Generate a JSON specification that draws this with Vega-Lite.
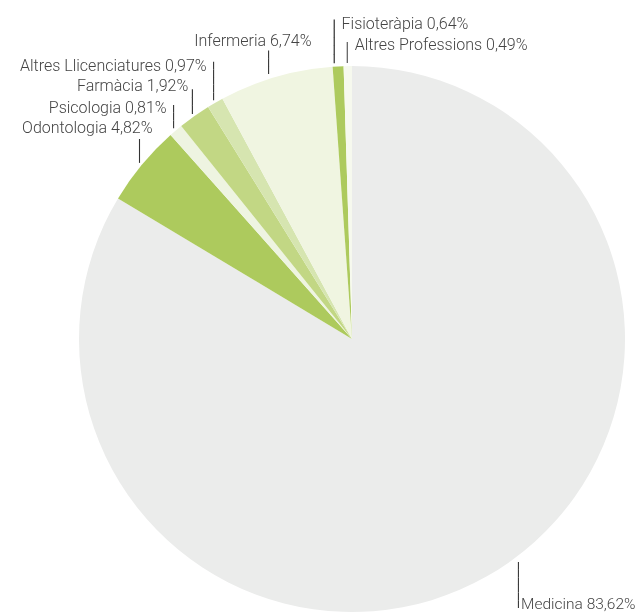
{
  "$schema": "https://vega.github.io/schema/vega-lite/v6.json",
  "autosize": {"type": "none"},
  "padding": {"left": 67, "top": 62, "right": 0, "bottom": 0},
  "width": 570,
  "height": 554,
  "background": "#ffffff",
  "config": {"view": {"stroke": null}},
  "data": {
    "values": [
      {"cat": "Medicina", "label": "Medicina 83,62%", "value": 83.62, "idx": 1},
      {"cat": "Odontologia", "label": "Odontologia 4,82%", "value": 4.82, "idx": 2},
      {"cat": "Psicologia", "label": "Psicologia 0,81%", "value": 0.81, "idx": 3},
      {"cat": "Farmàcia", "label": "Farmàcia 1,92%", "value": 1.92, "idx": 4},
      {"cat": "Altres Llicenciatures", "label": "Altres Llicenciatures 0,97%", "value": 0.97, "idx": 5},
      {"cat": "Infermeria", "label": "Infermeria 6,74%", "value": 6.74, "idx": 6},
      {"cat": "Fisioteràpia", "label": "Fisioteràpia 0,64%", "value": 0.64, "idx": 7},
      {"cat": "Altres Professions", "label": "Altres Professions 0,49%", "value": 0.49, "idx": 8}
    ]
  },
  "encoding": {
    "theta": {"field": "value", "type": "quantitative", "stack": true},
    "order": {"field": "idx", "type": "quantitative"},
    "detail": {"field": "cat", "type": "nominal"}
  },
  "layer": [
    {
      "mark": {"type": "arc", "outerRadius": 273},
      "encoding": {
        "color": {
          "field": "cat", "type": "nominal", "legend": null,
          "scale": {
            "domain": ["Medicina", "Odontologia", "Psicologia", "Farmàcia", "Altres Llicenciatures", "Infermeria", "Fisioteràpia", "Altres Professions"],
            "range": ["#ebeceb", "#adca5d", "#eef4e1", "#c2d784", "#d6e5b0", "#f0f5e1", "#adca5d", "#f6f9ee"]
          }
        }
      }
    },
    {
      "mark": {"type": "text", "radius": 278, "thetaOffset": -0.1253, "angle": 90, "align": "left", "baseline": "middle", "font": "DejaVu Sans Mono", "fontSize": 12.7, "color": "#333333", "blend": "multiply"},
      "encoding": {"text": {"condition": {"test": "datum.cat === 'Medicina'", "value": "──────"}, "value": ""}}
    },
    {
      "mark": {"type": "text", "radius": 276, "angle": 270, "align": "left", "baseline": "middle", "font": "DejaVu Sans Mono", "fontSize": 13.1, "color": "#333333", "blend": "multiply"},
      "encoding": {"text": {"condition": {"test": "datum.cat === 'Odontologia'", "value": "───"}, "value": ""}}
    },
    {
      "mark": {"type": "text", "radius": 276, "angle": 270, "align": "left", "baseline": "middle", "font": "DejaVu Sans Mono", "fontSize": 12.8, "color": "#333333", "blend": "multiply"},
      "encoding": {"text": {"condition": {"test": "datum.cat === 'Psicologia'", "value": "───"}, "value": ""}}
    },
    {
      "mark": {"type": "text", "radius": 276, "angle": 270, "align": "left", "baseline": "middle", "font": "DejaVu Sans Mono", "fontSize": 13.5, "color": "#333333", "blend": "multiply"},
      "encoding": {"text": {"condition": {"test": "datum.cat === 'Farmàcia'", "value": "───"}, "value": ""}}
    },
    {
      "mark": {"type": "text", "radius": 276, "angle": 270, "align": "left", "baseline": "middle", "font": "DejaVu Sans Mono", "fontSize": 12.76, "color": "#333333", "blend": "multiply"},
      "encoding": {"text": {"condition": {"test": "datum.cat === 'Altres Llicenciatures'", "value": "─────"}, "value": ""}}
    },
    {
      "mark": {"type": "text", "radius": 276, "angle": 270, "dy": -6.5, "align": "left", "baseline": "middle", "font": "DejaVu Sans Mono", "fontSize": 12.85, "color": "#333333", "blend": "multiply"},
      "encoding": {"text": {"condition": {"test": "datum.cat === 'Infermeria'", "value": "───"}, "value": ""}}
    },
    {
      "mark": {"type": "text", "radius": 276, "angle": 270, "dy": -3.4, "align": "left", "baseline": "middle", "font": "DejaVu Sans Mono", "fontSize": 14.5, "color": "#333333", "blend": "multiply"},
      "encoding": {"text": {"condition": {"test": "datum.cat === 'Fisioteràpia'", "value": "─────"}, "value": ""}}
    },
    {
      "mark": {"type": "text", "radius": 276, "angle": 270, "align": "left", "baseline": "middle", "font": "DejaVu Sans Mono", "fontSize": 11.6, "color": "#333333", "blend": "multiply"},
      "encoding": {"text": {"condition": {"test": "datum.cat === 'Altres Professions'", "value": "───"}, "value": ""}}
    },
    {
      "mark": {"type": "text", "radius": 278, "thetaOffset": -0.1253, "align": "left", "baseline": "alphabetic", "dx": 3, "dy": 47, "font": "Roboto", "fontSize": 15.5, "fontWeight": 300, "color": "#444444"},
      "encoding": {"text": {"condition": {"test": "datum.cat === 'Medicina'", "field": "label", "type": "nominal"}, "value": ""}}
    },
    {
      "mark": {"type": "text", "radius": 276, "align": "right", "baseline": "alphabetic", "dx": 13, "dy": -29.3, "font": "Roboto", "fontSize": 16, "fontWeight": 300, "color": "#444444"},
      "encoding": {"text": {"condition": {"test": "datum.cat === 'Odontologia'", "field": "label", "type": "nominal"}, "value": ""}}
    },
    {
      "mark": {"type": "text", "radius": 276, "align": "right", "baseline": "alphabetic", "dx": -7.3, "dy": -15.4, "font": "Roboto", "fontSize": 16, "fontWeight": 300, "color": "#444444"},
      "encoding": {"text": {"condition": {"test": "datum.cat === 'Psicologia'", "field": "label", "type": "nominal"}, "value": ""}}
    },
    {
      "mark": {"type": "text", "radius": 276, "align": "right", "baseline": "alphabetic", "dx": -4.4, "dy": -22.6, "font": "Roboto", "fontSize": 16, "fontWeight": 300, "color": "#444444"},
      "encoding": {"text": {"condition": {"test": "datum.cat === 'Farmàcia'", "field": "label", "type": "nominal"}, "value": ""}}
    },
    {
      "mark": {"type": "text", "radius": 276, "align": "right", "baseline": "alphabetic", "dx": -7.1, "dy": -29.4, "font": "Roboto", "fontSize": 16, "fontWeight": 300, "color": "#444444"},
      "encoding": {"text": {"condition": {"test": "datum.cat === 'Altres Llicenciatures'", "field": "label", "type": "nominal"}, "value": ""}}
    },
    {
      "mark": {"type": "text", "radius": 276, "align": "right", "baseline": "alphabetic", "dx": 36.5, "dy": -27.6, "font": "Roboto", "fontSize": 16, "fontWeight": 300, "color": "#444444"},
      "encoding": {"text": {"condition": {"test": "datum.cat === 'Infermeria'", "field": "label", "type": "nominal"}, "value": ""}}
    },
    {
      "mark": {"type": "text", "radius": 276, "align": "left", "baseline": "alphabetic", "dx": 3.6, "dy": -34.3, "font": "Roboto", "fontSize": 16, "fontWeight": 300, "color": "#444444"},
      "encoding": {"text": {"condition": {"test": "datum.cat === 'Fisioteràpia'", "field": "label", "type": "nominal"}, "value": ""}}
    },
    {
      "mark": {"type": "text", "radius": 276, "align": "left", "baseline": "alphabetic", "dx": 7, "dy": -13.3, "font": "Roboto", "fontSize": 16, "fontWeight": 300, "color": "#444444"},
      "encoding": {"text": {"condition": {"test": "datum.cat === 'Altres Professions'", "field": "label", "type": "nominal"}, "value": ""}}
    }
  ]
}
